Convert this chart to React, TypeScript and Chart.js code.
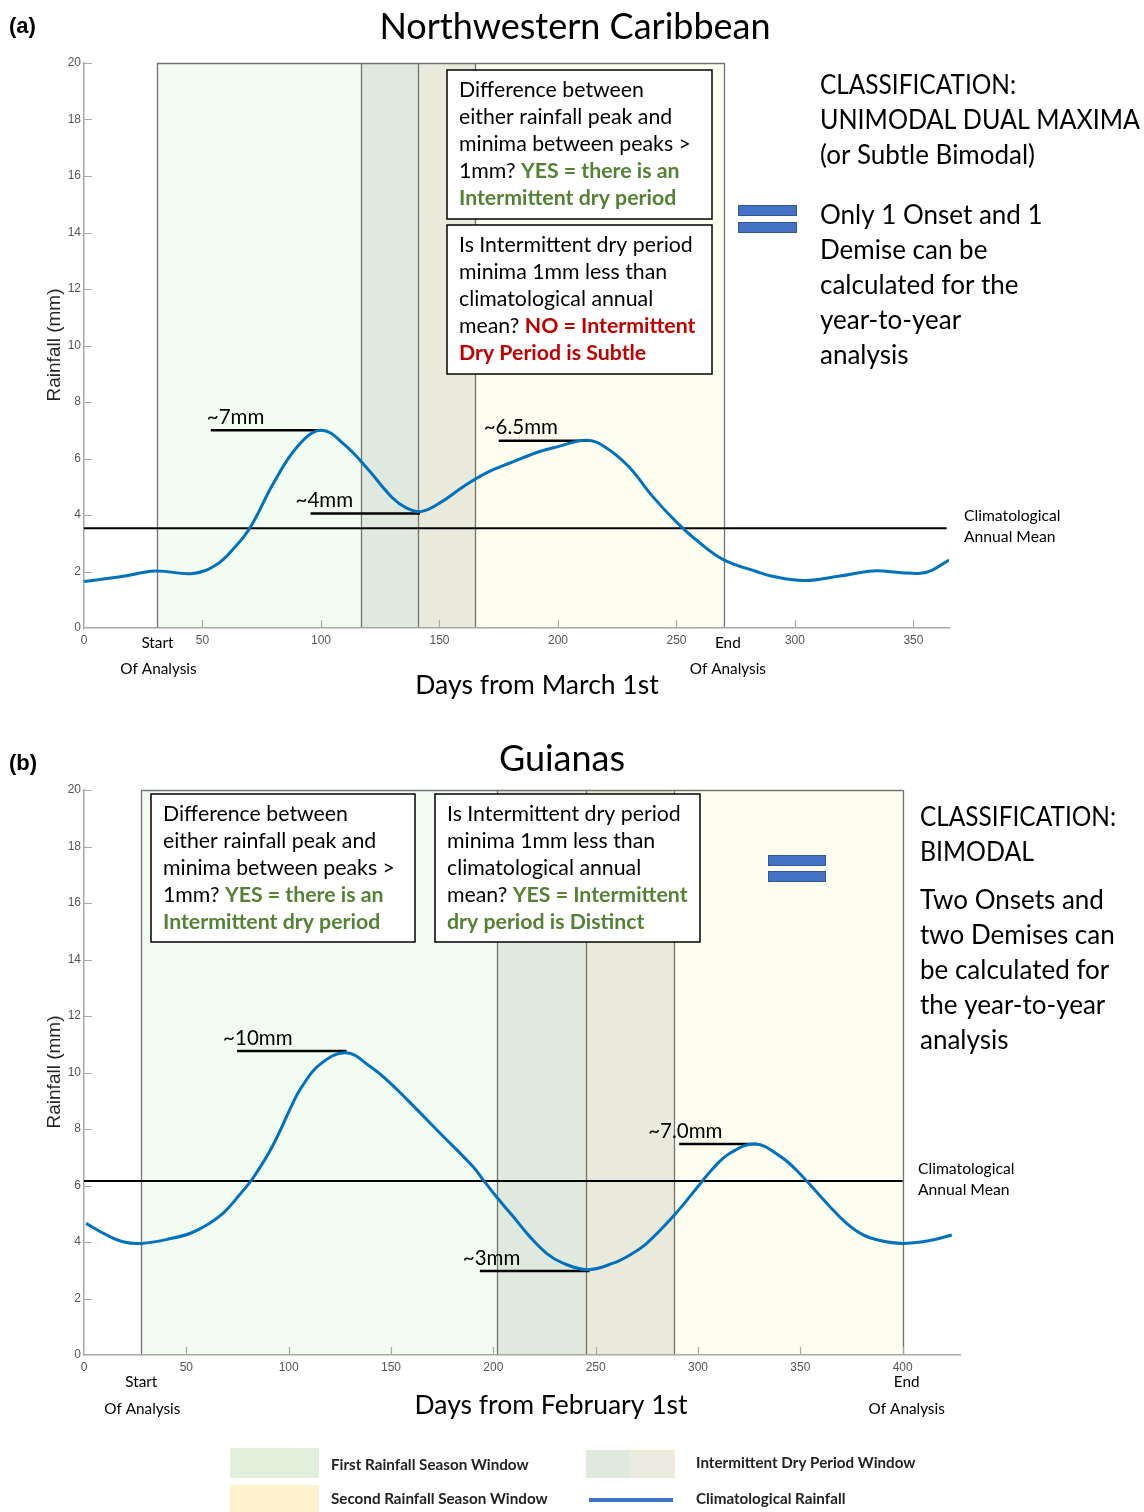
import React, { useEffect, useRef } from "react";
import { Chart, registerables } from "chart.js";

Chart.register(...registerables);

// ---------- Panel (a): Northwestern Caribbean ----------
const daysA = [0, 16, 30, 46, 56, 63, 70, 80, 90, 100, 110, 120, 130, 136, 142, 150, 160, 170, 180, 192, 200, 212, 220, 230, 240, 250, 260, 270, 284, 291, 304, 319, 333, 345, 353, 358, 365];
const rainA = [1.65, 1.82, 2.02, 1.93, 2.25, 2.8, 3.54, 5.13, 6.42, 7.0, 6.48, 5.6, 4.62, 4.25, 4.12, 4.42, 5.0, 5.5, 5.85, 6.24, 6.42, 6.65, 6.4, 5.7, 4.65, 3.75, 3.0, 2.41, 1.99, 1.82, 1.68, 1.84, 2.02, 1.96, 1.94, 2.05, 2.41];
const meanA = 3.53;
const meanEndA = 364;
const windowEdgesA = [31, 117, 141, 165, 270];
const annStartA = [53.5, 95.6, 175];
const annEndA = [100, 141.8, 213];
const annValueA = [7.0, 4.05, 6.63];
const annLabelA = ["~7mm", "~4mm", "~6.5mm"];

// ---------- Panel (b): Guianas ----------
const daysB = [1, 11, 19, 28, 43, 52, 60, 68, 76, 83, 92, 102, 106, 115, 128, 140, 150, 158, 174, 190, 195, 201.5, 209.7, 217.8, 226, 234, 246, 258.6, 266.7, 274.9, 288.5, 299.3, 307.4, 315.6, 328, 340, 348, 364.5, 372.6, 380.7, 388.9, 399.7, 413, 424];
const rainB = [4.66, 4.25, 4.01, 3.95, 4.13, 4.31, 4.6, 5.02, 5.67, 6.31, 7.38, 8.91, 9.45, 10.27, 10.7, 10.2, 9.6, 9.03, 7.85, 6.67, 6.2, 5.6, 4.9, 4.19, 3.6, 3.25, 3.02, 3.25, 3.54, 3.95, 4.96, 5.9, 6.61, 7.14, 7.47, 7.04, 6.55, 5.25, 4.66, 4.25, 4.05, 3.95, 4.05, 4.25];
const meanB = 6.16;
const meanEndB = 400;
const windowEdgesB = [28, 202, 245.5, 288.5, 400];
const annStartB = [74.8, 193.4, 290.8];
const annEndB = [128.3, 247, 329];
const annValueB = [10.76, 2.97, 7.47];
const annLabelB = ["~10mm", "~3mm", "~7.0mm"];

// ---------- shared styling ----------
const BODY = "Lato, 'Open Sans', sans-serif";
const AXIS_FONT = "'Liberation Sans', Arial, sans-serif";
const GREEN = "#548235";
const RED = "#C00000";
const CURVE = "rgb(0,114,189)";
const WINDOW_COLORS = ["#f2fcf0", "#dfe9dd", "#eaeadc", "#fefef0"];
const EDGE_COLOR = "#70766f";
const BOX_SIZE = 21.3;

type Seg = { t: string; b?: boolean; c?: string };

function drawSegs(ctx: CanvasRenderingContext2D, x: number, y: number, segs: Seg[], size: number) {
  let cx = x;
  for (const s of segs) {
    ctx.font = `${s.b ? "bold " : ""}${size}px ${BODY}`;
    ctx.fillStyle = s.c || "#000";
    ctx.fillText(s.t, cx, y);
    cx += ctx.measureText(s.t).width;
  }
}

function text(ctx: CanvasRenderingContext2D, t: string, x: number, y: number, font: string, align: CanvasTextAlign = "left", color = "#000", maxWidth?: number) {
  ctx.font = font;
  ctx.textAlign = align;
  ctx.fillStyle = color;
  if (maxWidth) ctx.fillText(t, x, y, maxWidth);
  else ctx.fillText(t, x, y);
  ctx.textAlign = "left";
}

function drawBox(ctx: CanvasRenderingContext2D, r: number[]) {
  ctx.fillStyle = "#fff";
  ctx.fillRect(r[0], r[1], r[2], r[3]);
  ctx.strokeStyle = "#000";
  ctx.lineWidth = 1.5;
  ctx.strokeRect(r[0], r[1], r[2], r[3]);
}

function drawEquals(ctx: CanvasRenderingContext2D, x: number, y1: number, y2: number, w: number, h: number) {
  for (const yy of [y1, y2]) {
    ctx.fillStyle = "#4472C4";
    ctx.fillRect(x, yy, w, h);
    ctx.strokeStyle = "#2F528F";
    ctx.lineWidth = 0.8;
    ctx.strokeRect(x + 0.5, yy + 0.5, w - 1, h - 1);
  }
}

type Panel = {
  days: number[];
  rain: number[];
  mean: number;
  meanEnd: number;
  xMax: number;
  edges: number[];
  annStart: number[];
  annEnd: number[];
  annValue: number[];
  annLabel: string[];
  annDx: number[];
  pad: { left: number; right: number; top: number; bottom: number };
  decorate: (ctx: CanvasRenderingContext2D, chart: any) => void;
};

function panelPlugin(p: Panel) {
  return {
    id: "panelDecor",
    beforeDraw(chart: any) {
      const { ctx, scales } = chart;
      const x = scales.x, y = scales.y;
      const top = y.getPixelForValue(20), bot = y.getPixelForValue(0);
      ctx.save();
      for (let i = 0; i < 4; i++) {
        const x0 = x.getPixelForValue(p.edges[i]);
        const x1 = x.getPixelForValue(p.edges[i + 1]);
        ctx.fillStyle = WINDOW_COLORS[i];
        ctx.fillRect(x0, top, x1 - x0, bot - top);
      }
      ctx.strokeStyle = EDGE_COLOR;
      ctx.lineWidth = 1.3;
      ctx.beginPath();
      for (const e of p.edges) {
        const px = Math.round(x.getPixelForValue(e)) + 0.5;
        ctx.moveTo(px, top);
        ctx.lineTo(px, bot);
      }
      ctx.moveTo(x.getPixelForValue(p.edges[0]), top + 0.5);
      ctx.lineTo(x.getPixelForValue(p.edges[4]), top + 0.5);
      ctx.stroke();
      ctx.restore();
    },
    beforeDatasetsDraw(chart: any) {
      const { ctx, scales } = chart;
      const x = scales.x, y = scales.y;
      const left = x.left, bot = y.getPixelForValue(0);
      ctx.save();
      ctx.strokeStyle = "#a8a8a8";
      ctx.lineWidth = 1.2;
      ctx.beginPath();
      for (let v = 2; v <= 20; v += 2) {
        const py = Math.round(y.getPixelForValue(v)) + 0.5;
        ctx.moveTo(left, py);
        ctx.lineTo(left + 8, py);
      }
      for (let v = 50; v <= p.xMax; v += 50) {
        const px = Math.round(x.getPixelForValue(v)) + 0.5;
        ctx.moveTo(px, bot);
        ctx.lineTo(px, bot - 8);
      }
      ctx.stroke();
      ctx.restore();
    },
    afterDraw(chart: any) {
      const { ctx, scales } = chart;
      const x = scales.x, y = scales.y;
      ctx.save();
      ctx.textBaseline = "middle";
      // value labels over the annotation bars
      p.annLabel.forEach((lab, i) => {
        const px = x.getPixelForValue(p.annStart[i]) + p.annDx[i];
        const py = y.getPixelForValue(p.annValue[i]) - 13;
        text(ctx, lab, px, py, `20.5px ${BODY}`);
      });
      p.decorate(ctx, chart);
      ctx.restore();
    },
  };
}

function buildConfig(p: Panel): any {
  const annSets = p.annStart.map((s, i) => ({
    data: [
      { x: s, y: p.annValue[i] },
      { x: p.annEnd[i], y: p.annValue[i] },
    ],
    borderColor: "#000",
    borderWidth: 2.5,
    pointRadius: 0,
    tension: 0,
  }));
  const tickFont = { family: AXIS_FONT, size: 12 };
  return {
    type: "line",
    data: {
      datasets: [
        {
          label: "Climatological Rainfall",
          data: p.days.map((d, i) => ({ x: d, y: p.rain[i] })),
          borderColor: CURVE,
          borderWidth: 3,
          pointRadius: 0,
          tension: 0.4,
        },
        {
          label: "Climatological Annual Mean",
          data: [
            { x: 0, y: p.mean },
            { x: p.meanEnd, y: p.mean },
          ],
          borderColor: "#000",
          borderWidth: 2,
          pointRadius: 0,
          tension: 0,
        },
        ...annSets,
      ],
    },
    options: {
      responsive: false,
      animation: false,
      devicePixelRatio: 1,
      events: [],
      layout: { padding: p.pad },
      plugins: { legend: { display: false }, tooltip: { enabled: false }, title: { display: false } },
      scales: {
        x: {
          type: "linear",
          min: 0,
          max: p.xMax,
          ticks: { stepSize: 50, font: tickFont, color: "#555", padding: 5, maxRotation: 0, autoSkip: false },
          grid: { display: false, drawTicks: false },
          border: { color: "#a8a8a8", width: 1.5 },
          afterBuildTicks: (s: any) => {
            s.ticks = s.ticks.filter((t: any) => t.value % 50 === 0);
          },
          afterFit: (s: any) => {
            s.height = 30;
          },
        },
        y: {
          min: 0,
          max: 20,
          ticks: { stepSize: 2, font: tickFont, color: "#555", padding: 3 },
          grid: { display: false, drawTicks: false },
          border: { color: "#a8a8a8", width: 1.5 },
          afterFit: (s: any) => {
            s.width = 30;
          },
        },
      },
    },
    plugins: [panelPlugin(p)],
  };
}

function yTitle(ctx: CanvasRenderingContext2D, cx: number, cy: number) {
  ctx.save();
  ctx.translate(cx, cy);
  ctx.rotate(-Math.PI / 2);
  text(ctx, "Rainfall (mm)", 0, 0, `19px ${AXIS_FONT}`, "center", "#262626");
  ctx.restore();
}

function startEnd(ctx: CanvasRenderingContext2D, chart: any, edges: number[], y1: number, y2: number, endDx: number) {
  const x = chart.scales.x;
  const sx = x.getPixelForValue(edges[0]);
  const ex = x.getPixelForValue(edges[4]) + endDx;
  const f = `15.3px ${BODY}`;
  text(ctx, "Start", sx, y1, f, "center");
  text(ctx, "Of Analysis", sx + 1, y2, f, "center");
  text(ctx, "End", ex, y1, f, "center");
  text(ctx, "Of Analysis", ex, y2, f, "center");
}

const RIGHT_FONT = `26px ${BODY}`;

const panelA: Panel = {
  days: daysA,
  rain: rainA,
  mean: meanA,
  meanEnd: meanEndA,
  xMax: 365,
  edges: windowEdgesA,
  annStart: annStartA,
  annEnd: annEndA,
  annValue: annValueA,
  annLabel: annLabelA,
  annDx: [-4, -15, -15],
  pad: { left: 54, right: 195, top: 63, bottom: 47 },
  decorate(ctx, chart) {
    text(ctx, "(a)", 9, 27, `bold 22px ${AXIS_FONT}`);
    text(ctx, "Northwestern Caribbean", 575, 27, `36px ${BODY}`, "center");
    text(ctx, "Days from March 1st", 537, 685, `26.5px ${BODY}`, "center");
    yTitle(ctx, 55, 345);
    startEnd(ctx, chart, windowEdgesA, 643, 669, 4);

    drawBox(ctx, [447, 70, 265, 149]);
    drawBox(ctx, [447, 225, 265, 149]);
    const box1: Seg[][] = [
      [{ t: "Difference between" }],
      [{ t: "either rainfall peak and" }],
      [{ t: "minima between peaks >" }],
      [{ t: "1mm? " }, { t: "YES = there is an", b: true, c: GREEN }],
      [{ t: "Intermittent dry period", b: true, c: GREEN }],
    ];
    const box2: Seg[][] = [
      [{ t: "Is Intermittent dry period" }],
      [{ t: "minima 1mm less than" }],
      [{ t: "climatological annual" }],
      [{ t: "mean? " }, { t: "NO = Intermittent", b: true, c: RED }],
      [{ t: "Dry Period is Subtle", b: true, c: RED }],
    ];
    box1.forEach((l, i) => drawSegs(ctx, 459, 90 + 27 * i, l, BOX_SIZE));
    box2.forEach((l, i) => drawSegs(ctx, 459, 245 + 27 * i, l, BOX_SIZE));

    text(ctx, "CLASSIFICATION:", 820, 86, RIGHT_FONT, "left", "#000", 196);
    text(ctx, "UNIMODAL DUAL MAXIMA", 820, 121, RIGHT_FONT, "left", "#000", 320);
    const right = [
      ["(or Subtle Bimodal)", 156],
      ["Only 1 Onset and 1", 216],
      ["Demise can be", 251],
      ["calculated for the", 286],
      ["year-to-year", 321],
      ["analysis", 356],
    ] as [string, number][];
    right.forEach(([t, yy]) => text(ctx, t, 820, yy, RIGHT_FONT));
    drawEquals(ctx, 738, 205, 222, 59, 11);

    text(ctx, "Climatological", 964, 516, `15.7px ${BODY}`);
    text(ctx, "Annual Mean", 964, 537, `15.7px ${BODY}`);
  },
};

const panelB: Panel = {
  days: daysB,
  rain: rainB,
  mean: meanB,
  meanEnd: meanEndB,
  xMax: 428,
  edges: windowEdgesB,
  annStart: annStartB,
  annEnd: annEndB,
  annValue: annValueB,
  annLabel: annLabelB,
  annDx: [-14, -17, -31],
  pad: { left: 54, right: 184, top: 85, bottom: 127 },
  decorate(ctx, chart) {
    text(ctx, "(b)", 9, 59, `bold 22px ${AXIS_FONT}`);
    text(ctx, "Guianas", 562, 54, `36px ${BODY}`, "center");
    text(ctx, "Days from February 1st", 551, 700, `26.5px ${BODY}`, "center");
    yTitle(ctx, 55, 367);
    startEnd(ctx, chart, windowEdgesB, 677, 704, 4);

    drawBox(ctx, [151, 89, 264, 148]);
    drawBox(ctx, [435, 89, 265, 148]);
    const box1: Seg[][] = [
      [{ t: "Difference between" }],
      [{ t: "either rainfall peak and" }],
      [{ t: "minima between peaks >" }],
      [{ t: "1mm? " }, { t: "YES = there is an", b: true, c: GREEN }],
      [{ t: "Intermittent dry period", b: true, c: GREEN }],
    ];
    const box2: Seg[][] = [
      [{ t: "Is Intermittent dry period" }],
      [{ t: "minima 1mm less than" }],
      [{ t: "climatological annual" }],
      [{ t: "mean? " }, { t: "YES = Intermittent", b: true, c: GREEN }],
      [{ t: "dry period is Distinct", b: true, c: GREEN }],
    ];
    box1.forEach((l, i) => drawSegs(ctx, 163, 109 + 27 * i, l, BOX_SIZE));
    box2.forEach((l, i) => drawSegs(ctx, 447, 109 + 27 * i, l, BOX_SIZE));

    text(ctx, "CLASSIFICATION:", 920, 113, RIGHT_FONT, "left", "#000", 196);
    text(ctx, "BIMODAL", 920, 148, RIGHT_FONT, "left", "#000", 114);
    const right = [
      ["Two Onsets and", 196],
      ["two Demises can", 231],
      ["be calculated for", 266],
      ["the year-to-year", 301],
      ["analysis", 336],
    ] as [string, number][];
    right.forEach(([t, yy]) => text(ctx, t, 920, yy, RIGHT_FONT));
    drawEquals(ctx, 768, 150, 166, 58, 11);

    text(ctx, "Climatological", 918, 464, `15.7px ${BODY}`);
    text(ctx, "Annual Mean", 918, 485, `15.7px ${BODY}`);

    // legend
    ctx.fillStyle = "#e2efda";
    ctx.fillRect(230, 743, 89, 30);
    ctx.fillStyle = "#fff2cc";
    ctx.fillRect(230, 780, 89, 27);
    ctx.fillStyle = "#dfe9dd";
    ctx.fillRect(586, 745, 44, 28);
    ctx.fillStyle = "#ebebdf";
    ctx.fillRect(630, 745, 44, 28);
    ctx.strokeStyle = "#fbe5c0";
    ctx.lineWidth = 0.8;
    ctx.beginPath();
    ctx.moveTo(630, 745.5);
    ctx.lineTo(674.5, 745.5);
    ctx.lineTo(674.5, 773);
    ctx.stroke();
    ctx.fillStyle = "#4472C4";
    ctx.fillRect(589, 793, 84, 4);
    const lf = `bold 15.2px ${BODY}`;
    text(ctx, "First Rainfall Season Window", 331, 760, lf, "left", "#222");
    text(ctx, "Second Rainfall Season Window", 331, 794, lf, "left", "#222");
    text(ctx, "Intermittent Dry Period Window", 696, 758, lf, "left", "#222");
    text(ctx, "Climatological Rainfall", 696, 794, lf, "left", "#222");
  },
};

export default function App() {
  const refA = useRef<HTMLCanvasElement>(null);
  const refB = useRef<HTMLCanvasElement>(null);
  useEffect(() => {
    const a = new Chart(refA.current as HTMLCanvasElement, buildConfig(panelA));
    const b = new Chart(refB.current as HTMLCanvasElement, buildConfig(panelB));
    return () => {
      a.destroy();
      b.destroy();
    };
  }, []);
  return (
    <div style={{ position: "absolute", left: 0, top: 0, width: 1144, background: "#fff" }}>
      <canvas ref={refA} width={1144} height={705} style={{ display: "block", width: 1144, height: 705 }} />
      <canvas ref={refB} width={1144} height={807} style={{ display: "block", width: 1144, height: 807 }} />
    </div>
  );
}
